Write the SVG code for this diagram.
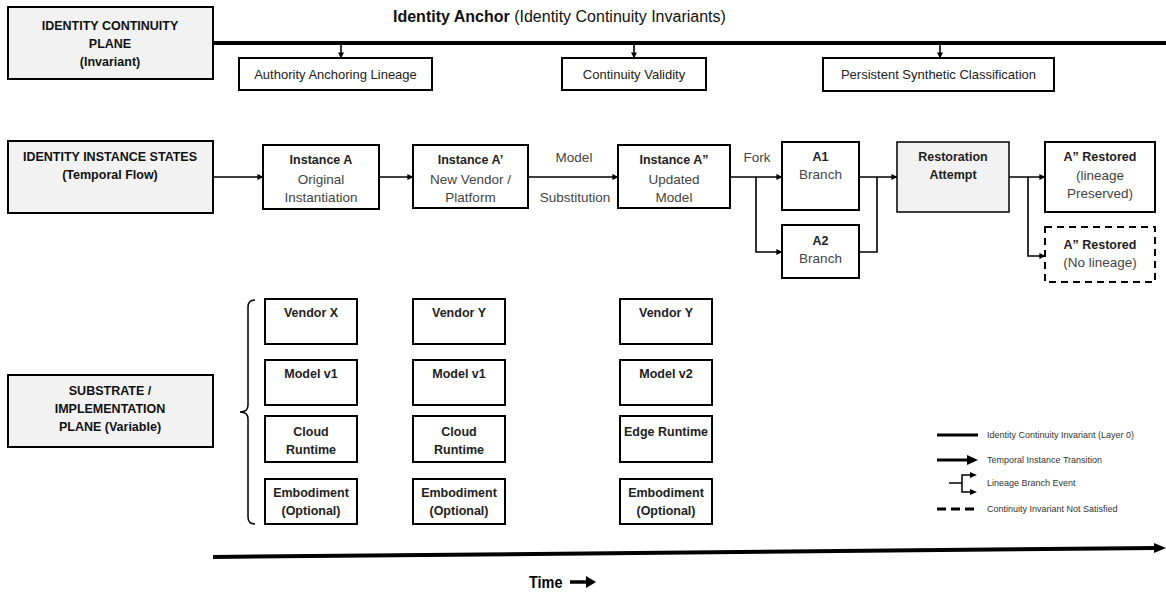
<svg xmlns="http://www.w3.org/2000/svg" width="1166" height="592" viewBox="0 0 1166 592">
<style>
text{font-family:"Liberation Sans",Arial,sans-serif;}
.plane{fill:#f2f2f2;stroke:#000;stroke-width:2;}
.box{fill:#fff;stroke:#000;stroke-width:2;}
.gbox{fill:#f2f2f2;stroke:#000;stroke-width:1.5;}
.dbox{fill:#fff;stroke:#000;stroke-width:2;stroke-dasharray:7 5;}
.pl{font-size:12.5px;font-weight:bold;fill:#111;text-anchor:middle;}
.b{font-size:12.5px;font-weight:bold;fill:#222;text-anchor:middle;}
.r{font-size:13.5px;fill:#444;text-anchor:middle;}
.inv{font-size:13px;fill:#222;text-anchor:middle;}
.lg{font-size:9px;fill:#333;}
.c{fill:none;stroke:#000;stroke-width:1.6;}
</style>
<defs>
<marker id="ah" viewBox="0 0 8 8" refX="7.5" refY="4" markerWidth="6" markerHeight="6" markerUnits="userSpaceOnUse" orient="auto"><path d="M0,0 L8,4 L0,8 z" fill="#000"/></marker>
</defs>

<text x="393" y="22" font-size="16" fill="#111"><tspan font-weight="bold">Identity Anchor</tspan> (Identity Continuity Invariants)</text>

<g id="plane-continuity"><rect class="plane" x="8" y="7" width="205" height="72"/>
<text class="pl" x="110" y="30">IDENTITY CONTINUITY</text><text class="pl" x="110" y="48">PLANE</text><text class="pl" x="110" y="66">(Invariant)</text></g>
<g id="plane-instances"><rect class="plane" x="8" y="141" width="205" height="72"/>
<text class="pl" x="110" y="161">IDENTITY INSTANCE STATES</text><text class="pl" x="110" y="179">(Temporal Flow)</text></g>
<g id="plane-substrate"><rect class="plane" x="8" y="375" width="205" height="72"/>
<text class="pl" x="110" y="395">SUBSTRATE /</text><text class="pl" x="110" y="413">IMPLEMENTATION</text><text class="pl" x="110" y="431">PLANE (Variable)</text></g>

<g id="inv-authority"><rect class="box" x="239" y="58" width="193" height="32" stroke-width="1.5"/><text class="inv" x="335.5" y="79">Authority Anchoring Lineage</text></g>
<g id="inv-validity"><rect class="box" x="562" y="58" width="144" height="32" stroke-width="1.5"/><text class="inv" x="634" y="79">Continuity Validity</text></g>
<g id="inv-classification"><rect class="box" x="823" y="58" width="231" height="33" stroke-width="1.5"/><text class="inv" x="938.5" y="79">Persistent Synthetic Classification</text></g>

<g id="inst-a"><rect class="box" x="263" y="145" width="116" height="64"/><text class="b" x="321" y="164">Instance A</text><text class="r" x="321" y="184">Original</text><text class="r" x="321" y="202">Instantiation</text></g>
<g id="inst-a1"><rect class="box" x="413" y="145" width="115" height="63"/><text class="b" x="470.5" y="164">Instance A’</text><text class="r" x="470.5" y="184">New Vendor /</text><text class="r" x="470.5" y="202">Platform</text></g>
<g id="inst-a2"><rect class="box" x="618" y="145" width="112" height="63"/><text class="b" x="674" y="164">Instance A”</text><text class="r" x="674" y="184">Updated</text><text class="r" x="674" y="202">Model</text></g>
<g id="branch-a1"><rect class="box" x="782" y="142" width="77" height="68"/><text class="b" x="820.5" y="161">A1</text><text class="r" x="820.5" y="179">Branch</text></g>
<g id="branch-a2"><rect class="box" x="782" y="225" width="77" height="53"/><text class="b" x="820.5" y="245">A2</text><text class="r" x="820.5" y="263">Branch</text></g>
<g id="restoration"><rect class="gbox" x="897" y="142" width="112" height="70"/><text class="b" x="953" y="161">Restoration</text><text class="b" x="953" y="179">Attempt</text></g>
<g id="restored-lineage"><rect class="box" x="1045" y="142" width="110" height="70"/><text class="b" x="1100" y="161">A” Restored</text><text class="r" x="1100" y="180">(lineage</text><text class="r" x="1100" y="198">Preserved)</text></g>
<g id="restored-nolineage"><rect class="dbox" x="1045" y="227" width="110" height="55"/><text class="b" x="1100" y="249">A” Restored</text><text class="r" x="1100" y="267">(No lineage)</text></g>

<g id="sub-col1">
<rect class="box" x="265" y="299" width="92" height="45" stroke-width="1.5"/><text class="b" x="311" y="317" font-size="12">Vendor X</text>
<rect class="box" x="265" y="360" width="92" height="45" stroke-width="1.5"/><text class="b" x="311" y="378" font-size="12">Model v1</text>
<rect class="box" x="265" y="416" width="92" height="46" stroke-width="1.5"/><text class="b" x="311" y="436" font-size="12">Cloud</text><text class="b" x="311" y="454" font-size="12">Runtime</text>
<rect class="box" x="265" y="479" width="92" height="45" stroke-width="1.5"/><text class="b" x="311" y="497" font-size="12">Embodiment</text><text class="b" x="311" y="515" font-size="12">(Optional)</text>
</g>
<g id="sub-col2">
<rect class="box" x="413" y="299" width="92" height="45" stroke-width="1.5"/><text class="b" x="459" y="317" font-size="12">Vendor Y</text>
<rect class="box" x="413" y="360" width="92" height="45" stroke-width="1.5"/><text class="b" x="459" y="378" font-size="12">Model v1</text>
<rect class="box" x="413" y="416" width="92" height="46" stroke-width="1.5"/><text class="b" x="459" y="436" font-size="12">Cloud</text><text class="b" x="459" y="454" font-size="12">Runtime</text>
<rect class="box" x="413" y="479" width="92" height="45" stroke-width="1.5"/><text class="b" x="459" y="497" font-size="12">Embodiment</text><text class="b" x="459" y="515" font-size="12">(Optional)</text>
</g>
<g id="sub-col3">
<rect class="box" x="620" y="299" width="92" height="45" stroke-width="1.5"/><text class="b" x="666" y="317" font-size="12">Vendor Y</text>
<rect class="box" x="620" y="360" width="92" height="45" stroke-width="1.5"/><text class="b" x="666" y="378" font-size="12">Model v2</text>
<rect class="box" x="620" y="416" width="92" height="46" stroke-width="1.5"/><text class="b" x="666" y="436" font-size="12">Edge Runtime</text>
<rect class="box" x="620" y="479" width="92" height="45" stroke-width="1.5"/><text class="b" x="666" y="497" font-size="12">Embodiment</text><text class="b" x="666" y="515" font-size="12">(Optional)</text>
</g>

<g id="connectors">
<line x1="213" y1="43" x2="1166" y2="43" stroke="#000" stroke-width="4"/>
<line class="c" x1="341" y1="45" x2="341" y2="58" stroke-width="1.2" marker-end="url(#ah)"/>
<line class="c" x1="634" y1="45" x2="634" y2="58" stroke-width="1.2" marker-end="url(#ah)"/>
<line class="c" x1="940" y1="45" x2="940" y2="58" stroke-width="1.2" marker-end="url(#ah)"/>
<line class="c" x1="213" y1="177" x2="263" y2="177" marker-end="url(#ah)"/>
<line class="c" x1="379" y1="177" x2="413" y2="177" marker-end="url(#ah)"/>
<line class="c" x1="528" y1="177" x2="618" y2="177" marker-end="url(#ah)"/>
<text x="574" y="162" font-size="13.5" fill="#444" text-anchor="middle">Model</text>
<text x="575" y="202" font-size="13.5" fill="#444" text-anchor="middle">Substitution</text>
<polyline class="c" points="730,177 782,177" marker-end="url(#ah)"/>
<polyline class="c" points="756,177 756,252 782,252" marker-end="url(#ah)"/>
<text x="757" y="162" font-size="13.5" fill="#444" text-anchor="middle">Fork</text>
<polyline class="c" points="859,177 897,177" marker-end="url(#ah)"/>
<polyline class="c" points="859,252 877,252 877,177"/>
<polyline class="c" points="1009,177 1045,177" marker-end="url(#ah)"/>
<polyline class="c" points="1028,177 1028,256 1045,256" marker-end="url(#ah)"/>
<path d="M255,300 Q248,300 248,307 L248,405 Q248,412 240,412 Q248,412 248,419 L248,517 Q248,524 255,524" fill="none" stroke="#000" stroke-width="1.5"/>
<line x1="213" y1="557" x2="1157" y2="548" stroke="#000" stroke-width="4"/>
<path d="M1154,543 L1166,548 L1154,553 z" fill="#000"/>
</g>

<g id="time-label">
<text x="529" y="588" font-size="17" font-weight="bold" fill="#000" transform="translate(529 0) scale(0.85 1) translate(-529 0)">Time</text>
<line x1="570" y1="582" x2="588" y2="582" stroke="#000" stroke-width="3.5"/>
<path d="M586,576 L596,582 L586,588 z" fill="#000"/>
</g>

<g id="legend">
<line x1="937" y1="435" x2="978" y2="435" stroke="#000" stroke-width="3"/>
<text class="lg" x="987" y="438">Identity Continuity Invariant (Layer 0)</text>
<line x1="937" y1="460" x2="968" y2="460" stroke="#000" stroke-width="3"/>
<path d="M967,455 L978,460 L967,465 z" fill="#000"/>
<text class="lg" x="987" y="463">Temporal Instance Transition</text>
<polyline points="949,483 962,483" fill="none" stroke="#000" stroke-width="1.5"/>
<polyline points="971,475 962,475 962,492 971,492" fill="none" stroke="#000" stroke-width="1.5"/>
<path d="M970,472 L977,475 L970,478 z" fill="#000"/>
<path d="M970,489 L977,492 L970,495 z" fill="#000"/>
<text class="lg" x="987" y="486">Lineage Branch Event</text>
<line x1="937" y1="509" x2="978" y2="509" stroke="#000" stroke-width="3" stroke-dasharray="9 5"/>
<text class="lg" x="987" y="512">Continuity Invariant Not Satisfied</text>
</g>
</svg>
